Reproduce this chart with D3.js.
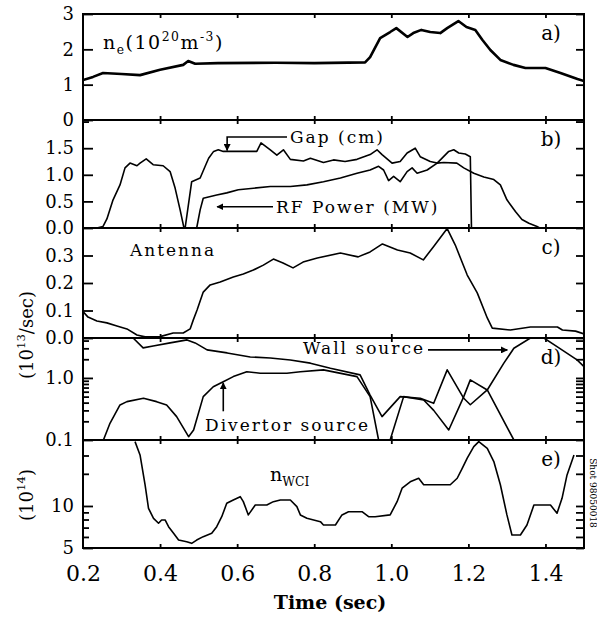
<!DOCTYPE html>
<html>
<head>
<meta charset="utf-8">
<script src="https://cdnjs.cloudflare.com/ajax/libs/d3/7.8.5/d3.min.js"></script>
<style>
  body { margin: 0; background: #fff; }
  svg { display: block; }
  text { font-family: "DejaVu Serif", serif; fill: #000; }
  .note { font-size: 17px; letter-spacing: 2px; }
</style>
</head>
<body>
<div id="chart"></div>
<script>
// shared time axis
const timeTicks = [0.2, 0.4, 0.6, 0.8, 1.0, 1.2, 1.4];

// a) line density n_e (10^20 m^-3)
const neT = [0.2, 0.226, 0.252, 0.3, 0.348, 0.4, 0.46, 0.473, 0.491, 0.55, 0.7, 0.8, 0.932, 0.945, 0.971, 0.997, 1.013, 1.042, 1.057, 1.078, 1.101, 1.127, 1.145, 1.174, 1.195, 1.218, 1.236, 1.257, 1.283, 1.317, 1.348, 1.4, 1.439, 1.483, 1.5];
const neV = [1.13, 1.22, 1.33, 1.3, 1.27, 1.42, 1.56, 1.67, 1.59, 1.61, 1.62, 1.61, 1.63, 1.78, 2.32, 2.49, 2.6, 2.35, 2.46, 2.55, 2.49, 2.46, 2.6, 2.8, 2.63, 2.55, 2.27, 1.98, 1.7, 1.56, 1.47, 1.47, 1.33, 1.16, 1.1];

// b) gap (cm) and RF power (MW)
const gapT = [0.2, 0.236, 0.252, 0.262, 0.278, 0.296, 0.309, 0.322, 0.34, 0.348, 0.364, 0.382, 0.408, 0.426, 0.439, 0.452, 0.462, 0.465, 0.482, 0.504, 0.517, 0.526, 0.539, 0.551, 0.564, 0.651, 0.662, 0.686, 0.703, 0.72, 0.738, 0.772, 0.79, 0.824, 0.85, 0.88, 0.911, 0.945, 0.963, 0.976, 1.002, 1.023, 1.041, 1.062, 1.075, 1.101, 1.119, 1.136, 1.17, 1.188, 1.214, 1.24, 1.266, 1.283, 1.3, 1.322, 1.339, 1.357, 1.378, 1.385];
const gapV = [0, 0, 0.03, 0.17, 0.53, 0.81, 1.13, 1.22, 1.17, 1.22, 1.3, 1.19, 1.17, 1.06, 0.75, 0.34, 0, 0, 0.87, 0.94, 1.16, 1.31, 1.44, 1.47, 1.44, 1.44, 1.6, 1.47, 1.37, 1.47, 1.29, 1.26, 1.31, 1.23, 1.28, 1.25, 1.29, 1.38, 1.47, 1.38, 1.22, 1.25, 1.41, 1.5, 1.34, 1.25, 1.22, 1.23, 1.22, 1.13, 1.03, 0.96, 0.91, 0.81, 0.53, 0.31, 0.16, 0.09, 0.03, 0];
const rfT = [0.495, 0.504, 0.512, 0.547, 0.573, 0.603, 0.686, 0.738, 0.781, 0.824, 0.868, 0.911, 0.945, 0.967, 0.98, 0.993, 1.006, 1.023, 1.041, 1.054, 1.067, 1.093, 1.119, 1.149, 1.162, 1.175, 1.192, 1.205, 1.208];
const rfV = [0, 0.34, 0.56, 0.62, 0.66, 0.72, 0.78, 0.78, 0.81, 0.87, 0.94, 1.03, 1.09, 1.16, 1.09, 0.89, 0.97, 0.87, 1.06, 1.13, 1.03, 1.09, 1.22, 1.44, 1.47, 1.41, 1.39, 1.34, 0];

// c) antenna source (10^13/sec)
const antT = [0.2, 0.213, 0.236, 0.262, 0.288, 0.314, 0.34, 0.361, 0.4, 0.434, 0.46, 0.478, 0.486, 0.496, 0.512, 0.53, 0.556, 0.59, 0.616, 0.642, 0.668, 0.694, 0.719, 0.745, 0.771, 0.808, 0.868, 0.914, 0.945, 0.977, 1.016, 1.049, 1.083, 1.109, 1.145, 1.166, 1.197, 1.223, 1.249, 1.262, 1.309, 1.361, 1.431, 1.444, 1.478, 1.5];
const antV = [0.096, 0.076, 0.062, 0.055, 0.044, 0.033, 0.011, 0.004, 0.005, 0.018, 0.018, 0.033, 0.065, 0.102, 0.167, 0.193, 0.204, 0.222, 0.233, 0.247, 0.265, 0.287, 0.273, 0.255, 0.276, 0.291, 0.309, 0.295, 0.313, 0.342, 0.32, 0.309, 0.284, 0.331, 0.398, 0.338, 0.229, 0.164, 0.073, 0.036, 0.029, 0.04, 0.04, 0.029, 0.025, 0.015];

// d) wall and divertor sources (10^13/sec, log)
const wallT = [0.33, 0.356, 0.382, 0.426, 0.47, 0.491, 0.522, 0.574, 0.634, 0.686, 0.738, 0.79, 0.842, 0.919, 0.945, 0.976, 1.023, 1.075, 1.11, 1.145, 1.188, 1.205, 1.249, 1.292, 1.318, 1.361, 1.396, 1.43, 1.482, 1.5];
const wallV = [4.4, 3.05, 3.28, 3.67, 4.1, 3.67, 2.83, 2.53, 2.18, 2.1, 1.95, 1.73, 1.43, 1.12, 0.53, 0.238, 0.5, 0.47, 0.39, 1.35, 0.47, 0.37, 0.64, 1.73, 3.01, 4.4, 4.4, 3.2, 1.95, 1.52];
const divT = [0.253, 0.27, 0.296, 0.314, 0.357, 0.391, 0.417, 0.443, 0.474, 0.487, 0.512, 0.538, 0.564, 0.59, 0.625, 0.66, 0.729, 0.764, 0.824, 0.911, 0.945, 0.967, 0.997, 1.032, 1.084, 1.11, 1.149, 1.188, 1.205, 1.249, 1.318];
const divV = [0.1, 0.186, 0.367, 0.415, 0.47, 0.415, 0.367, 0.238, 0.113, 0.145, 0.5, 0.72, 0.87, 1.05, 1.26, 1.19, 1.19, 1.26, 1.35, 1.05, 0.5, 0.1, 0.1, 0.5, 0.44, 0.3, 0.145, 0.5, 0.93, 0.64, 0.1];

// e) n_WCI (10^14, log)
const wciT = [0.335, 0.348, 0.361, 0.37, 0.383, 0.396, 0.404, 0.413, 0.422, 0.435, 0.448, 0.469, 0.482, 0.495, 0.512, 0.534, 0.547, 0.56, 0.573, 0.59, 0.608, 0.616, 0.629, 0.647, 0.677, 0.694, 0.712, 0.738, 0.755, 0.764, 0.781, 0.816, 0.824, 0.855, 0.872, 0.889, 0.924, 0.941, 0.958, 0.997, 1.015, 1.028, 1.049, 1.071, 1.084, 1.153, 1.171, 1.184, 1.197, 1.214, 1.227, 1.249, 1.266, 1.283, 1.3, 1.313, 1.335, 1.352, 1.37, 1.413, 1.43, 1.443, 1.456, 1.474];
const wciV = [28.9, 23.2, 14.2, 9.63, 8.16, 7.52, 7.94, 7.94, 7.11, 6.37, 5.7, 5.55, 5.4, 5.7, 6.03, 6.37, 7.11, 8.38, 10.45, 11.04, 11.66, 10.74, 8.63, 10.16, 10.16, 10.74, 11.04, 11.04, 9.89, 8.63, 8.16, 7.72, 7.31, 7.31, 8.63, 9.1, 9.1, 8.38, 8.38, 8.63, 10.74, 13.4, 14.9, 15.8, 14.2, 14.2, 15.8, 18.6, 22.0, 26.6, 28.9, 25.9, 20.8, 14.2, 8.63, 6.19, 6.19, 7.31, 10.16, 10.16, 8.87, 11.35, 16.7, 23.2];

// y tick values per panel
const aTicks = [0, 1, 2, 3];
const bTicks = [0, 0.5, 1.0, 1.5];
const bMinor = [2.0];
const cTicks = [0, 0.1, 0.2, 0.3];
const dTicks = [0.1, 1.0];
const dMinor = [0.2, 0.3, 0.4, 0.5, 0.6, 0.7, 0.8, 0.9, 2, 3, 4];
const eTicks = [5, 10];
const eMinor = [6, 7, 8, 9, 17, 23];

const width = 597;
const height = 619;
const left = 83;
const right = 584;

const x = d3.scaleLinear().domain([0.2, 1.5]).range([left, right]);

const zip = (t, v) => t.map((d, i) => [d, v[i]]);

const panels = [
  { id: "a", y0: 14, y1: 120, y: d3.scaleLinear().domain([0, 3]), ticks: aTicks, minor: [], fmt: d3.format("d"),
    series: [{ data: zip(neT, neV), w: 2.6 }] },
  { id: "b", y0: 120, y1: 228, y: d3.scaleLinear().domain([0, 2.03]), ticks: bTicks, minor: bMinor, fmt: d3.format(".1f"),
    series: [{ data: zip(gapT, gapV), w: 1.6 }, { data: zip(rfT, rfV), w: 1.6 }] },
  { id: "c", y0: 228, y1: 338, y: d3.scaleLinear().domain([0, 0.4]), ticks: cTicks, minor: [], fmt: d3.format(".1f"),
    series: [{ data: zip(antT, antV), w: 1.6 }] },
  { id: "d", y0: 338, y1: 440, y: d3.scaleLog().domain([0.1, 4.4]), ticks: dTicks, minor: dMinor, fmt: d3.format(".1f"),
    series: [{ data: zip(wallT, wallV), w: 1.6 }, { data: zip(divT, divV), w: 1.6 }] },
  { id: "e", y0: 440, y1: 548, y: d3.scaleLog().domain([5, 29.7]), ticks: eTicks, minor: eMinor, fmt: d3.format("d"),
    series: [{ data: zip(wciT, wciV), w: 1.6 }] }
];
panels.forEach(p => p.y.range([p.y1, p.y0]));

const svg = d3
  .select("#chart")
  .append("svg")
  .attr("width", width)
  .attr("height", height);

svg.append("defs")
  .append("marker")
  .attr("id", "head")
  .attr("viewBox", "0 0 10 10")
  .attr("refX", 9)
  .attr("refY", 5)
  .attr("markerWidth", 7)
  .attr("markerHeight", 7)
  .attr("markerUnits", "userSpaceOnUse")
  .attr("orient", "auto")
  .append("path")
  .attr("d", "M0,0L10,5L0,10z")
  .attr("fill", "#000");

const inner = timeTicks.slice(1);

panels.forEach(p => {
  const g = svg.append("g").attr("class", "panel-" + p.id);

  g.append("clipPath")
    .attr("id", "clip-" + p.id)
    .append("rect")
    .attr("x", left)
    .attr("y", p.y0)
    .attr("width", right - left)
    .attr("height", p.y1 - p.y0);

  const line = d3.line().x(d => x(d[0])).y(d => p.y(d[1]));

  g.selectAll("path.series")
    .data(p.series)
    .enter()
    .append("path")
    .attr("class", "series")
    .attr("clip-path", "url(#clip-" + p.id + ")")
    .attr("d", d => line(d.data))
    .attr("fill", "none")
    .attr("stroke", "#000")
    .attr("stroke-width", d => d.w)
    .attr("stroke-linejoin", "round");

  // left labels + inward ticks
  g.append("g")
    .attr("transform", "translate(" + left + ",0)")
    .call(d3.axisLeft(p.y).tickValues(p.ticks).tickFormat(p.fmt).tickSize(-10).tickPadding(9))
    .call(a => a.select(".domain").remove())
    .call(a => a.selectAll("text").style("font-size", "18px").attr("font-family", null));

  g.append("g")
    .attr("transform", "translate(" + left + ",0)")
    .call(d3.axisLeft(p.y).tickValues(p.minor).tickFormat("").tickSize(-6))
    .call(a => a.select(".domain").remove());

  g.append("g")
    .attr("transform", "translate(" + right + ",0)")
    .call(d3.axisRight(p.y).tickValues(p.ticks.concat(p.minor)).tickFormat("").tickSize(-8))
    .call(a => a.select(".domain").remove());

  g.append("g")
    .attr("transform", "translate(0," + p.y0 + ")")
    .call(d3.axisTop(x).tickValues(inner).tickFormat("").tickSize(-4))
    .call(a => a.select(".domain").remove());

  g.append("g")
    .attr("transform", "translate(0," + p.y1 + ")")
    .call(d3.axisBottom(x).tickValues(inner).tickFormat("").tickSize(-4))
    .call(a => a.select(".domain").remove());

  g.append("rect")
    .attr("x", left)
    .attr("y", p.y0)
    .attr("width", right - left)
    .attr("height", p.y1 - p.y0)
    .attr("fill", "none")
    .attr("stroke", "#000")
    .attr("stroke-width", 2);

  g.append("text")
    .attr("x", 551)
    .attr("y", p.y0 + 26)
    .attr("text-anchor", "middle")
    .style("font-size", "20px")
    .text(p.id + ")");
});

svg.selectAll(".tick line").attr("stroke", "#000").attr("stroke-width", 1.8);

// bottom time labels
svg.append("g")
  .attr("transform", "translate(0,548)")
  .call(d3.axisBottom(x).tickValues(timeTicks).tickFormat(d3.format(".1f")).tickSize(0).tickPadding(17))
  .call(a => a.select(".domain").remove())
  .call(a => a.selectAll("text").style("font-size", "22px").attr("font-family", null));

svg.append("text")
  .attr("x", 330)
  .attr("y", 609)
  .attr("text-anchor", "middle")
  .style("font-size", "19px")
  .style("font-weight", "bold")
  .text("Time (sec)");

// rich text helper: parts of [string, shift] with shift -1 sup, 1 sub
function rich(sel, parts, size) {
  let off = 0;
  parts.forEach(([s, k]) => {
    const target = k * (k < 0 ? 8 : 5);
    sel.append("tspan")
      .attr("dy", target - off)
      .style("font-size", (k === 0 ? size : size * 0.65) + "px")
      .text(s);
    off = target;
  });
}

const py = id => panels.find(p => p.id === id).y;

rich(svg.append("text").attr("x", 103).attr("y", 49).style("font-size", "19px").style("letter-spacing", "1.5px"),
  [["n", 0], ["e", 1], ["(10", 0], ["20", -1], ["m", 0], ["-3", -1], [")", 0]], 19);

// b) callouts
const gapArrow = [0.574, 1.44];
const rfArrow = [0.548, 0.4];
svg.append("text").attr("class", "note").attr("x", 290).attr("y", 143).text("Gap (cm)");
svg.append("path")
  .attr("d", "M287," + 137 + "H" + x(gapArrow[0]) + "V" + (py("b")(gapArrow[1]) - 1))
  .attr("fill", "none").attr("stroke", "#000").attr("stroke-width", 1.6)
  .attr("marker-end", "url(#head)");
svg.append("text").attr("class", "note").attr("x", 276).attr("y", 213).text("RF Power (MW)");
svg.append("path")
  .attr("d", "M273," + py("b")(rfArrow[1]) + "H" + x(rfArrow[0]))
  .attr("fill", "none").attr("stroke", "#000").attr("stroke-width", 1.6)
  .attr("marker-end", "url(#head)");

svg.append("text").attr("class", "note").attr("x", 130).attr("y", 256).text("Antenna");

// d) callouts
const wallArrow = [1.301, 2.83];
const divArrow = [0.564, 0.29, 0.83];
svg.append("text").attr("class", "note").attr("x", 303).attr("y", 354).text("Wall source");
svg.append("path")
  .attr("d", "M428," + py("d")(wallArrow[1]) + "H" + x(wallArrow[0]))
  .attr("fill", "none").attr("stroke", "#000").attr("stroke-width", 1.6)
  .attr("marker-end", "url(#head)");
svg.append("text").attr("class", "note").attr("x", 205).attr("y", 431).text("Divertor source");
svg.append("path")
  .attr("d", "M" + x(divArrow[0]) + "," + py("d")(divArrow[1]) + "V" + py("d")(divArrow[2]))
  .attr("fill", "none").attr("stroke", "#000").attr("stroke-width", 1.6)
  .attr("marker-end", "url(#head)");

rich(svg.append("text").attr("x", 270).attr("y", 481).style("font-size", "19px"),
  [["n", 0], ["WCI", 1]], 19);

// rotated y titles
rich(svg.append("text").attr("transform", "translate(33,335) rotate(-90)").attr("text-anchor", "middle").style("font-size", "18px"),
  [["(10", 0], ["13", -1], ["/sec)", 0]], 18);
rich(svg.append("text").attr("transform", "translate(33,495) rotate(-90)").attr("text-anchor", "middle").style("font-size", "18px"),
  [["(10", 0], ["14", -1], [")", 0]], 18);

svg.append("text")
  .attr("transform", "translate(590,493) rotate(90)")
  .attr("text-anchor", "middle")
  .style("font-size", "9px")
  .text("Shot 98050018");
</script>
</body>
</html>
